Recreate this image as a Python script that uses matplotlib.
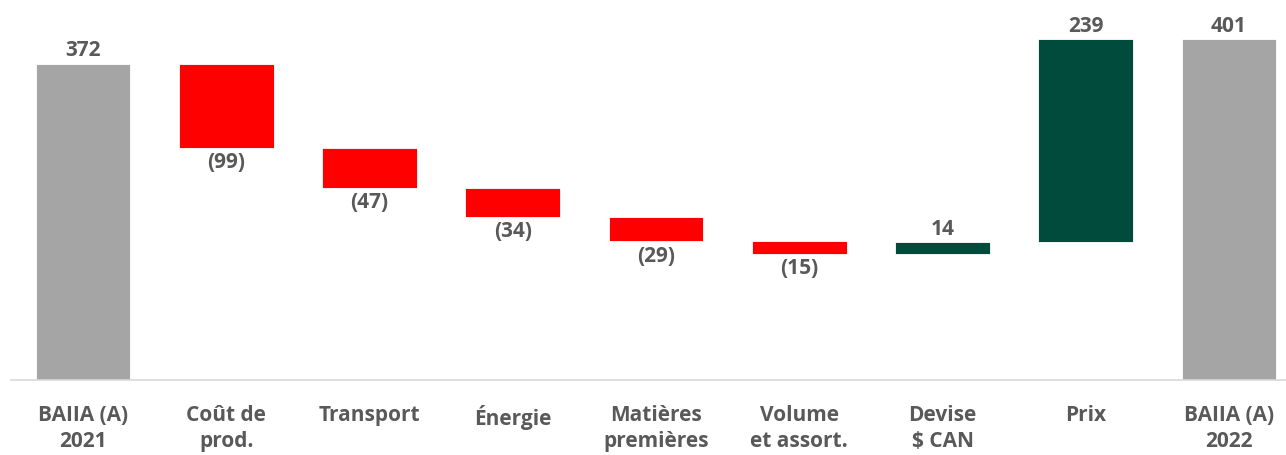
import matplotlib.pyplot as plt

categories = ["BAIIA (A)\n2021", "Coût de\nprod.", "Transport", "Énergie", "Matières\npremières",
              "Volume\net assort.", "Devise\n$ CAN", "Prix", "BAIIA (A)\n2022"]
values = [372, -99, -47, -34, -29, -15, 14, 239, 401]
kinds = ["total", "delta", "delta", "delta", "delta", "delta", "delta", "delta", "total"]

gray = "#A5A5A5"
red = "#FF0000"
green = "#004B3C"
txt = "#595959"

plt.rcParams['font.family'] = ['Open Sans', 'DejaVu Sans']

fig = plt.figure(figsize=(12.86, 4.55), dpi=100)
ax = fig.add_axes([0, 75 / 455, 1, 380 / 455])

px_per_unit = 143.25
x0 = 83 / px_per_unit
ax.set_xlim(-x0, (1286 - 83) / px_per_unit)
ax.set_ylim(0, 380 / 0.85)

running = 0
for i, (v, k) in enumerate(zip(values, kinds)):
    if k == "total":
        bottom, height, color = 0, v, gray
        running = v
    else:
        if v < 0:
            bottom, height, color = running + v, -v, red
        else:
            bottom, height, color = running, v, green
        running += v
    ax.bar(i, height, bottom=bottom, width=0.66, color=color, edgecolor="white", linewidth=0.6)
    if v < 0:
        ax.text(i, bottom - 5, "({})".format(-v), ha="center", va="top",
                fontsize=15, fontweight="bold", color=txt)
    else:
        ax.text(i, bottom + height + 3, str(v), ha="center", va="bottom",
                fontsize=15, fontweight="bold", color=txt)

ax.plot([-0.5, 8.6], [0, 0], color="#D9D9D9", linewidth=1.2, clip_on=False)

ax.set_xticks(range(len(categories)))
ax.set_xticklabels(categories, fontsize=15, fontweight="bold", color=txt, linespacing=1.3)
ax.tick_params(axis="x", length=0, pad=18)
ax.set_yticks([])
for s in ax.spines.values():
    s.set_visible(False)

fig.savefig("out.png", dpi=100)
